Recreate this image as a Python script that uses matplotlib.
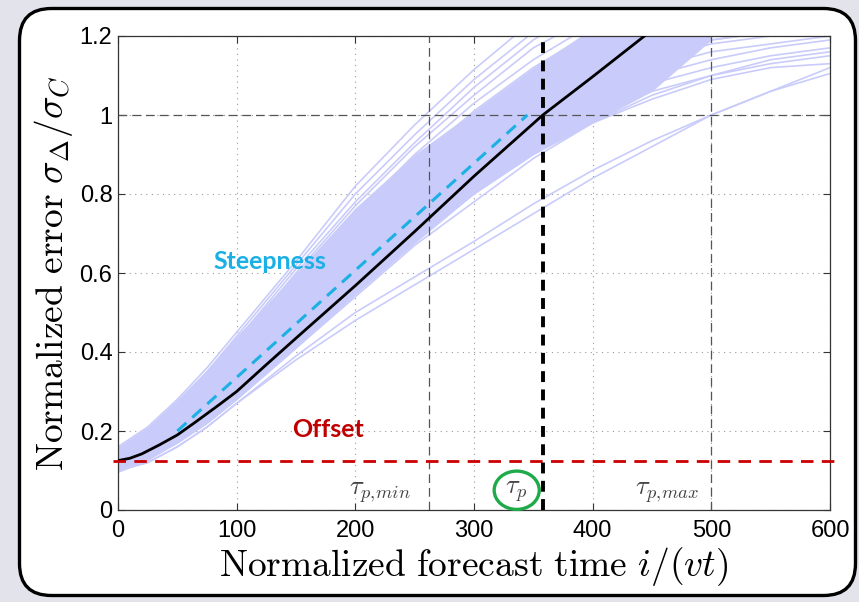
import matplotlib
matplotlib.use("Agg")
import matplotlib.pyplot as plt
from matplotlib.patches import FancyBboxPatch, Ellipse

# forecast time grid (normalized) on which the ensemble curves were read
T = [0, 25, 50, 75, 100, 150, 200, 250, 300, 350, 400, 450, 500, 550, 600]

# mean normalized error (black curve), read on its own finer grid
T_mean = [0, 10, 20, 35, 50, 65, 85, 100, 125, 150, 200, 250, 300, 358, 400, 450]
mean_err = [0.125, 0.131, 0.142, 0.165, 0.19, 0.222, 0.266, 0.30, 0.368, 0.435,
            0.568, 0.705, 0.845, 1.0, 1.097, 1.215]

# dense part of the ensemble
band_hi = [0.16, 0.21, 0.28, 0.355, 0.44, 0.60, 0.765, 0.90, 1.01, 1.12, 1.22, 1.30, 1.30]
band_lo = [0.095, 0.125, 0.17, 0.22, 0.28, 0.41, 0.545, 0.675, 0.80, 0.90, 0.98, 1.06, 1.19]

# individual ensemble members that stand out from the band
runs_fast = [
    [0.16, 0.21, 0.28, 0.36, 0.45, 0.63, 0.82, 0.975, 1.115, 1.24],
    [0.15, 0.20, 0.27, 0.35, 0.44, 0.62, 0.80, 0.95, 1.09, 1.21],
    [0.15, 0.19, 0.26, 0.34, 0.43, 0.61, 0.78, 0.93, 1.07, 1.19, 1.28],
    [0.14, 0.18, 0.25, 0.33, 0.42, 0.60, 0.77, 0.92, 1.05, 1.17, 1.25],
    [0.14, 0.18, 0.24, 0.32, 0.41, 0.58, 0.75, 0.90, 1.03, 1.14, 1.23],
    [0.14, 0.18, 0.24, 0.31, 0.40, 0.57, 0.74, 0.88, 1.01, 1.12, 1.21],
]
runs_mid = [
    [0.13, 0.16, 0.21, 0.27, 0.35, 0.52, 0.69, 0.85, 0.99, 1.10, 1.18, 1.23],
    [0.12, 0.15, 0.20, 0.26, 0.33, 0.49, 0.65, 0.80, 0.94, 1.06, 1.14, 1.19, 1.22],
    [0.12, 0.15, 0.19, 0.25, 0.32, 0.47, 0.63, 0.78, 0.92, 1.03, 1.12, 1.17, 1.20, 1.22],
    [0.11, 0.14, 0.19, 0.24, 0.31, 0.46, 0.61, 0.76, 0.89, 1.00, 1.08, 1.14, 1.18, 1.20, 1.21],
    [0.11, 0.14, 0.18, 0.23, 0.30, 0.45, 0.60, 0.74, 0.87, 0.98, 1.06, 1.12, 1.16, 1.18, 1.20],
    [0.12, 0.14, 0.18, 0.23, 0.29, 0.44, 0.58, 0.72, 0.85, 0.96, 1.04, 1.10, 1.14, 1.17, 1.19],
    [0.10, 0.13, 0.17, 0.22, 0.29, 0.43, 0.57, 0.70, 0.83, 0.94, 1.02, 1.08, 1.12, 1.15, 1.17],
    [0.11, 0.13, 0.17, 0.22, 0.28, 0.42, 0.56, 0.69, 0.81, 0.92, 1.00, 1.06, 1.10, 1.13, 1.15],
    [0.10, 0.13, 0.17, 0.22, 0.28, 0.41, 0.55, 0.68, 0.80, 0.90, 0.98, 1.04, 1.09, 1.12, 1.13],
    [0.12, 0.15, 0.20, 0.25, 0.31, 0.46, 0.62, 0.77, 0.91, 1.02, 1.10, 1.16, 1.19, 1.21],
    [0.11, 0.14, 0.19, 0.24, 0.31, 0.46, 0.61, 0.75, 0.88, 0.99, 1.09, 1.15, 1.19, 1.21],
    [0.10, 0.13, 0.17, 0.22, 0.28, 0.41, 0.54, 0.67, 0.78, 0.89, 0.98, 1.05, 1.10, 1.14, 1.16],
]
runs_slow = [
    [0.10, 0.12, 0.16, 0.21, 0.27, 0.39, 0.50, 0.59, 0.68, 0.775, 0.86, 0.935, 1.00, 1.06, 1.12],
    [0.10, 0.12, 0.16, 0.21, 0.27, 0.38, 0.48, 0.57, 0.66, 0.75, 0.84, 0.92, 1.00, 1.06, 1.105],
]

# steepness fit (end points of the dashed cyan segment)
steep_t = [50, 345]
steep_err = [0.2, 1.0]

offset = 0.125
tau_min, tau_p, tau_max = 262, 358, 500

xticks = [0, 100, 200, 300, 400, 500, 600]
yticks = [0, 0.2, 0.4, 0.6, 0.8, 1.0, 1.2]
ytick_labels = ["0", "0.2", "0.4", "0.6", "0.8", "1", "1.2"]

plt.rcParams["mathtext.fontset"] = "cm"

W, H = 859, 602
fig = plt.figure(figsize=(W / 100, H / 100), dpi=100)
fig.patch.set_facecolor("#e3e3eb")

frame = FancyBboxPatch((19.5, 6.5), 836, 587, boxstyle="round,pad=0,rounding_size=32",
                       transform=None, facecolor="white", edgecolor="black", linewidth=2.4,
                       zorder=-5)
fig.add_artist(frame)

ax = fig.add_axes([118 / W, 1 - 510 / H, 712 / W, 474 / H])
ax.set_facecolor("none")

lav = "#c9ccfa"
ax.fill_between(T[:len(band_hi)], band_lo, band_hi, color=lav, linewidth=0, zorder=2)
for run in runs_fast + runs_mid + runs_slow:
    ax.plot(T[:len(run)], run, color=lav, linewidth=1.2, zorder=2)

ax.plot(steep_t, steep_err, color="#1cb0e4", linewidth=2.2, dashes=(4, 2.6), zorder=4)
ax.plot(T_mean, mean_err, color="black", linewidth=2.0, zorder=5)

ax.plot([-4, 604], [offset, offset], color="#cc0000", linewidth=2.0, dashes=(4.5, 3),
        clip_on=False, zorder=6)

for t in (tau_min, tau_max):
    ax.axvline(t, color="#555555", linewidth=0.9, dashes=(7, 4), zorder=3)
ax.axvline(tau_p, color="black", linewidth=2.8, dashes=(2.8, 1.9), zorder=6)
ax.axhline(1.0, color="#555555", linewidth=0.9, dashes=(7, 4), zorder=3)

ax.set_xlim(0, 600)
ax.set_ylim(0, 1.2)
ax.set_xticks(xticks)
ax.set_yticks(yticks)
ax.set_yticklabels(ytick_labels)
ax.grid(True, linestyle=(0, (1, 4)), color="#9a9a9a", linewidth=0.8, zorder=1)
ax.set_axisbelow(True)
ax.tick_params(direction="in", top=True, right=True, length=5, width=0.8, color="#333333")
ax.tick_params(axis="x", pad=7)
ax.tick_params(axis="y", pad=4)
for lab in ax.get_xticklabels() + ax.get_yticklabels():
    lab.set_fontfamily("Liberation Sans")
    lab.set_fontsize(17)
for s in ax.spines.values():
    s.set_color("#333333")
    s.set_linewidth(0.9)

ax.set_xlabel(r"$\mathrm{Normalized\ forecast\ time}\ i/(vt)$", fontsize=27, labelpad=2)
ax.set_ylabel(r"$\mathrm{Normalized\ error}\ \sigma_\Delta/\sigma_C$", fontsize=27, labelpad=3)

ax.text(128, 0.628, "Steepness", color="#1ab0e6", fontsize=18, fontweight="bold",
        family="Lato", ha="center", va="center", zorder=7)
ax.text(177, 0.203, "Offset", color="#c00000", fontsize=18, fontweight="bold",
        family="Lato", ha="center", va="center", zorder=7)

ax.text(221, 0.046, r"$\tau_{p,\!min}$", color="#444444", fontsize=19, ha="center", va="center")
ax.text(336, 0.048, r"$\tau_p$", color="#444444", fontsize=19, ha="center", va="center")
ax.text(463, 0.046, r"$\tau_{p,\!max}$", color="#444444", fontsize=19, ha="center", va="center")
ax.add_patch(Ellipse((336, 0.05), 38, 0.097, fill=False, edgecolor="#1faa4a",
                     linewidth=2.4, clip_on=False, zorder=7))

fig.savefig("out.png", dpi=100, facecolor=fig.get_facecolor())
